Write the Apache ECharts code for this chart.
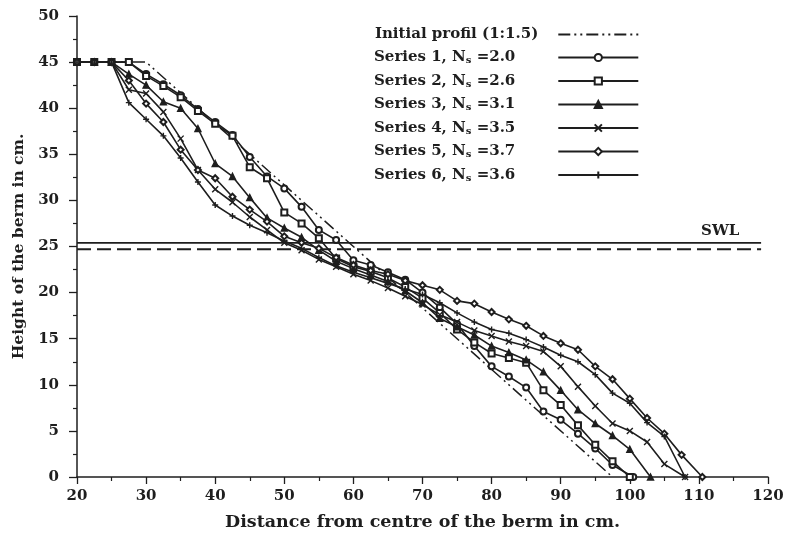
<!DOCTYPE html>
<html>
<head>
<meta charset="utf-8">
<script src="https://cdn.jsdelivr.net/npm/echarts@6/dist/echarts.min.js"></script>
<style>html,body{margin:0;padding:0;background:#fff;}#c{width:795px;height:540px;}</style>
</head>
<body>
<div id="c"></div>
<script>
const xTicks = [20, 30, 40, 50, 60, 70, 80, 90, 100, 110, 120];
const yTicks = [0, 5, 10, 15, 20, 25, 30, 35, 40, 45, 50];
const seriesNames = ['Series 1, Ns =2.0', 'Series 2, Ns =2.6', 'Series 3, Ns =3.1', 'Series 4, Ns =3.5', 'Series 5, Ns =3.7', 'Series 6, Ns =3.6'];
const initialName = 'Initial profil (1:1.5)';
const initialProfile = [[20,45],[30,45],[97.5,0]];
const swlSolid = [[20,25.4],[119,25.4]];
const swlDashed = [[20,24.7],[119,24.7]];
const series1 = [[20,45],[22.5,45],[25,45],[27.5,45],[30,43.7],[32.5,42.6],[35,41.4],[37.5,39.9],[40,38.5],[42.5,37.1],[45,34.7],[47.5,32.6],[50,31.3],[52.5,29.3],[55,26.8],[57.5,25.7],[60,23.5],[62.5,23.0],[65,22.2],[67.5,21.4],[70,20.0],[72.5,18.4],[75,16.6],[77.5,14.2],[80,12.0],[82.5,10.9],[85,9.7],[87.5,7.1],[90,6.2],[92.5,4.7],[95,3.1],[97.5,1.3],[100.5,0]];
const series2 = [[20,45],[22.5,45],[25,45],[27.5,45],[30,43.5],[32.5,42.4],[35,41.2],[37.5,39.7],[40,38.3],[42.5,37.0],[45,33.6],[47.5,32.4],[50,28.7],[52.5,27.5],[55,25.9],[57.5,23.7],[60,22.8],[62.5,22.3],[65,21.6],[67.5,20.6],[70,19.4],[72.5,17.8],[75,16.0],[77.5,14.6],[80,13.4],[82.5,12.9],[85,12.4],[87.5,9.4],[90,7.8],[92.5,5.6],[95,3.5],[97.5,1.7],[100,0]];
const series3 = [[20,45],[22.5,45],[25,45],[27.5,43.7],[30,42.5],[32.5,40.7],[35,40.0],[37.5,37.8],[40,34.0],[42.5,32.6],[45,30.3],[47.5,28.1],[50,27.0],[52.5,26.0],[55,24.6],[57.5,23.4],[60,22.6],[62.5,21.9],[65,21.2],[67.5,20.2],[70,18.9],[72.5,17.2],[75,16.3],[77.5,15.4],[80,14.2],[82.5,13.5],[85,12.7],[87.5,11.4],[90,9.4],[92.5,7.3],[95,5.8],[97.5,4.5],[100,3.0],[103,0]];
const series4 = [[20,45],[22.5,45],[25,45],[27.5,42.0],[30,41.6],[32.5,39.6],[35,36.7],[37.5,33.3],[40,31.2],[42.5,29.8],[45,28.2],[47.5,26.8],[50,25.4],[52.5,24.6],[55,23.6],[57.5,22.8],[60,22.0],[62.5,21.3],[65,20.5],[67.5,19.6],[70,18.7],[72.5,17.6],[75,16.8],[77.5,15.9],[80,15.3],[82.5,14.7],[85,14.2],[87.5,13.6],[90,12.0],[92.5,9.8],[95,7.7],[97.5,5.8],[100,5.0],[102.5,3.8],[105,1.4],[108,0]];
const series5 = [[20,45],[22.5,45],[25,45],[27.5,43.0],[30,40.5],[32.5,38.5],[35,35.5],[37.5,33.3],[40,32.4],[42.5,30.4],[45,29.0],[47.5,27.7],[50,26.1],[52.5,25.4],[55,24.8],[57.5,23.8],[60,23.0],[62.5,22.4],[65,22.0],[67.5,21.3],[70,20.8],[72.5,20.3],[75,19.1],[77.5,18.8],[80,17.9],[82.5,17.1],[85,16.4],[87.5,15.3],[90,14.5],[92.5,13.8],[95,12.0],[97.5,10.6],[100,8.5],[102.5,6.4],[105,4.7],[107.5,2.4],[110.5,0]];
const series6 = [[20,45],[22.5,45],[25,45],[27.5,40.6],[30,38.8],[32.5,37.0],[35,34.6],[37.5,32.0],[40,29.5],[42.5,28.3],[45,27.3],[47.5,26.5],[50,25.6],[52.5,24.8],[55,23.8],[57.5,22.9],[60,22.2],[62.5,21.6],[65,21.0],[67.5,20.4],[70,19.8],[72.5,18.9],[75,17.8],[77.5,16.8],[80,16.0],[82.5,15.6],[85,14.9],[87.5,14.1],[90,13.2],[92.5,12.5],[95,11.1],[97.5,9.1],[100,8.0],[102.5,5.9],[105,4.4],[108,0]];

const INK = '#1e1e1e';
const FONT = 'DejaVu Serif';
const symbols = ['emptyCircle', 'emptyRect', 'triangle', 'path://M0,0L10,10M10,0L0,10', 'emptyDiamond', 'path://M5,0L5,10M0,5L10,5'];
const allData = [series1, series2, series3, series4, series5, series6];

const dataSeries = allData.map((d, i) => ({
  name: seriesNames[i],
  type: 'line',
  data: d,
  symbol: symbols[i],
  symbolSize: 6,
  showSymbol: true,
  lineStyle: { color: INK, width: 1.6 },
  itemStyle: { color: INK, borderColor: INK, borderWidth: 1.4 },
  z: 5
}));

const chart = echarts.init(document.getElementById('c'), null, { renderer: 'canvas' });
chart.setOption({
  animation: false,
  backgroundColor: '#fff',
  grid: { left: 77, right: 27, top: 16, bottom: 63 },
  legend: {
    data: [initialName].concat(seriesNames),
    orient: 'vertical',
    left: 369,
    top: 22,
    align: 'right',
    itemWidth: 80,
    itemHeight: 9,
    itemGap: 8,
    formatter: function (n) {
      if (n === initialName) return '{t|' + n + '}{pad|}';
      return '{t|' + n.replace(/ =.*/, '').replace(/Ns$/, 'N') + '}{sub|s}{t|' + n.replace(/.*Ns/, '') + '}{padS|}';
    },
    textStyle: {
      fontFamily: FONT, fontWeight: 'bold', fontSize: 15, color: INK,
      rich: {
        t: { fontFamily: FONT, fontWeight: 'bold', fontSize: 15, color: INK },
        sub: { fontFamily: FONT, fontWeight: 'bold', fontSize: 10, color: INK, padding: [6, 0, 0, 0] },
        pad: { width: 15 },
        padS: { width: 38 }
      }
    }
  },
  xAxis: {
    type: 'value', min: 20, max: 120, interval: 10,
    name: 'Distance from centre of the berm in cm.',
    nameLocation: 'middle', nameGap: 36,
    nameTextStyle: { fontFamily: FONT, fontWeight: 'bold', fontSize: 17.5, color: INK },
    axisLine: { show: true, lineStyle: { color: INK, width: 1.5 } },
    axisTick: { show: true, length: 7, lineStyle: { color: INK, width: 1.3 } },
    minorTick: { show: true, splitNumber: 2, length: 4, lineStyle: { color: INK, width: 1.2 } },
    axisLabel: { fontFamily: FONT, fontWeight: 'bold', fontSize: 15, color: INK, margin: 12,
      formatter: v => xTicks.includes(v) ? String(v) : '' },
    splitLine: { show: false }
  },
  yAxis: {
    type: 'value', min: 0, max: 50, interval: 5,
    name: 'Height of the berm in cm.',
    nameLocation: 'middle', nameGap: 48,
    nameTextStyle: { fontFamily: FONT, fontWeight: 'bold', fontSize: 15.5, color: INK },
    axisLine: { show: true, lineStyle: { color: INK, width: 1.5 } },
    axisTick: { show: true, length: 8, lineStyle: { color: INK, width: 1.3 } },
    minorTick: { show: true, splitNumber: 2, length: 4, lineStyle: { color: INK, width: 1.2 } },
    axisLabel: { fontFamily: FONT, fontWeight: 'bold', fontSize: 15, color: INK, margin: 18,
      formatter: v => yTicks.includes(v) ? String(v) : '' },
    splitLine: { show: false }
  },
  series: [
    {
      name: initialName, type: 'line', data: initialProfile, symbol: 'none',
      lineStyle: { color: INK, width: 1.5, type: [12, 4, 2, 4, 2, 4] },
      itemStyle: { color: 'rgba(0,0,0,0)', borderColor: 'rgba(0,0,0,0)' }, z: 3
    },
    {
      name: 'SWL', type: 'line', data: swlSolid, showSymbol: false, symbol: 'none',
      lineStyle: { color: INK, width: 1.8 }, z: 2,
      endLabel: { show: true, formatter: 'SWL', fontFamily: FONT, fontWeight: 'bold', fontSize: 15, color: INK, offset: [-68, -12] }
    },
    {
      name: 'SWL2', type: 'line', data: swlDashed, showSymbol: false, symbol: 'none',
      lineStyle: { color: INK, width: 1.8, type: [14, 6] }, z: 2
    }
  ].concat(dataSeries)
});
</script>
</body>
</html>
